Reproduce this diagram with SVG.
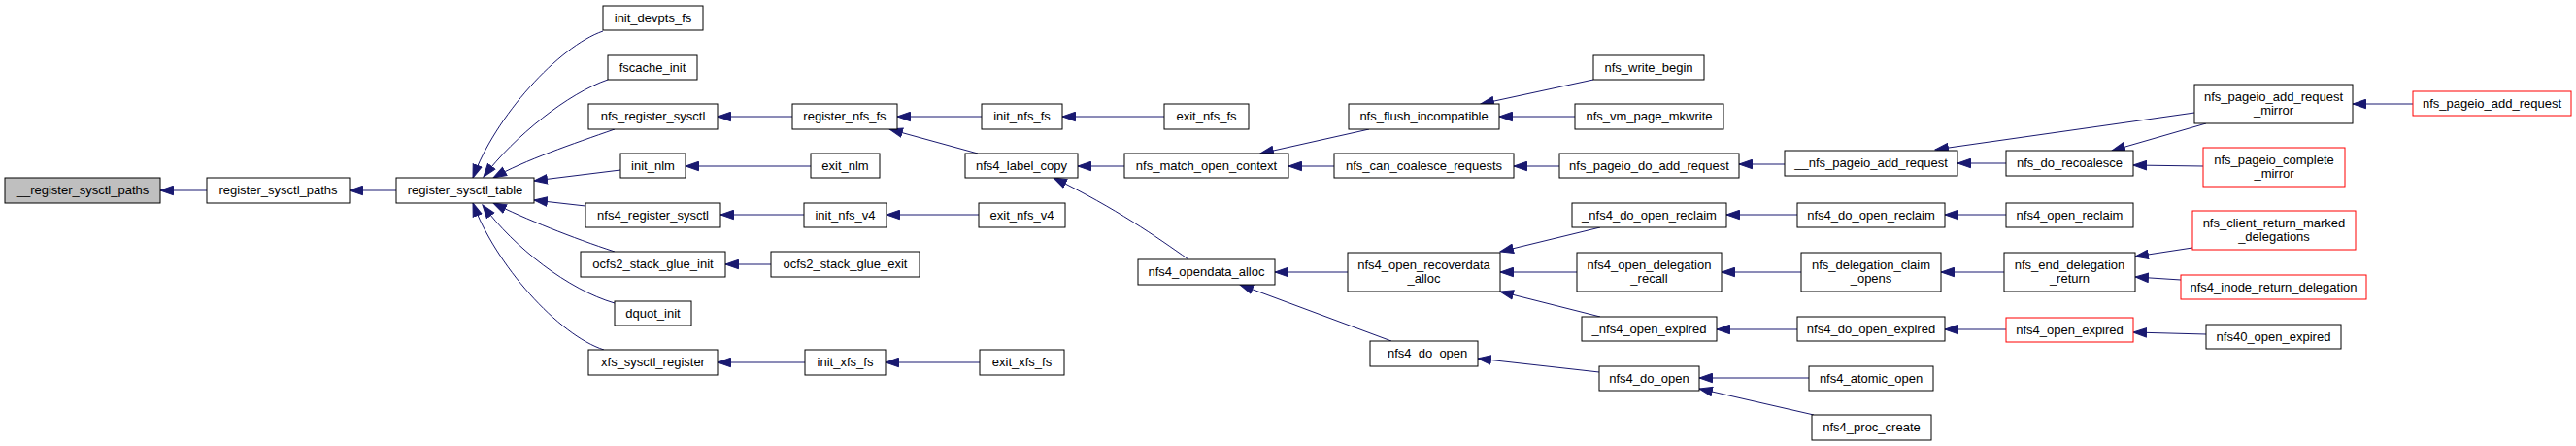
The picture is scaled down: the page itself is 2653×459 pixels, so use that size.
<svg xmlns="http://www.w3.org/2000/svg" width="2653" height="459" viewBox="0 0 2653 459">
<style>
.n rect{fill:#fff;stroke:#000;stroke-width:1}
.n.root rect{fill:#bfbfbf}
.n.red rect{stroke:#ff0000}
.n text{font-family:"Liberation Sans",Arial,sans-serif;font-size:13px;fill:#000;text-anchor:middle}
#edges path{fill:none;stroke:#191970;stroke-width:1;marker-end:url(#a)}
</style>
<defs>
<marker id="a" markerWidth="15" markerHeight="11" refX="14" refY="5.5" orient="auto" markerUnits="userSpaceOnUse" viewBox="0 0 15 11"><path d="M0.5,0.8 L14,5.5 L0.5,10.2 z" fill="#191970" stroke="#191970" stroke-width="1"/></marker>
</defs>
<rect width="2653" height="459" fill="#fff"/>
<g id="edges">
<path d="M213,196 L165,196"/>
<path d="M408,196 L360,196"/>
<path d="M621,32 C575,48 510,120 487,183"/>
<path d="M626,82 C585,96 530,140 498,182"/>
<path d="M633,133 C590,148 540,165 508,183"/>
<path d="M639,175 L550,186"/>
<path d="M603,212 L550,206"/>
<path d="M633,259 C590,245 540,225 508,209"/>
<path d="M633,312 C585,298 530,255 497,211"/>
<path d="M622,360 C575,345 510,272 487,209"/>
<path d="M816,120 L739,120"/>
<path d="M835,171 L706,171"/>
<path d="M828,221 L742,221"/>
<path d="M794,272 L747,272"/>
<path d="M829,373 L739,373"/>
<path d="M1011,120 L924,120"/>
<path d="M1007,158 L916,133"/>
<path d="M1199,120 L1094,120"/>
<path d="M1008,221 L913,221"/>
<path d="M1009,373 L912,373"/>
<path d="M1158,171 L1110,171"/>
<path d="M1224,267 C1190,243 1150,215 1085,183"/>
<path d="M1410,133 L1298,158"/>
<path d="M1374,171 L1327,171"/>
<path d="M1388,280 L1313,280"/>
<path d="M1433,351 L1277,293"/>
<path d="M1641,82 L1525,107"/>
<path d="M1622,120 L1544,120"/>
<path d="M1606,171 L1559,171"/>
<path d="M1648,234 L1545,259"/>
<path d="M1624,280 L1545,280"/>
<path d="M1648,326 L1545,300"/>
<path d="M1647,383 L1522,369"/>
<path d="M1838,169 L1791,169"/>
<path d="M1851,221 L1778,221"/>
<path d="M1855,280 L1773,280"/>
<path d="M1851,339 L1768,339"/>
<path d="M1863,389 L1750,389"/>
<path d="M1868,427 L1750,400"/>
<path d="M2066,168 L2016,168"/>
<path d="M2260,116 L1993,154"/>
<path d="M2272,127 L2175,155"/>
<path d="M2269,171 L2197,170"/>
<path d="M2066,221 L2003,221"/>
<path d="M2064,280 L1999,280"/>
<path d="M2066,339 L2003,339"/>
<path d="M2258,255 L2199,264"/>
<path d="M2246,288 L2199,285"/>
<path d="M2272,344 L2197,342"/>
<path d="M2485,107 L2423,107"/>
</g>
<g id="n0" class="n root"><rect x="5" y="183" width="160" height="26"/><text x="85" y="200">__register_sysctl_paths</text></g>
<g id="n1" class="n"><rect x="213" y="183" width="147" height="26"/><text x="286.5" y="200">register_sysctl_paths</text></g>
<g id="n2" class="n"><rect x="408" y="183" width="142" height="26"/><text x="479" y="200">register_sysctl_table</text></g>
<g id="n3" class="n"><rect x="621" y="6" width="103" height="25"/><text x="672.5" y="23">init_devpts_fs</text></g>
<g id="n4" class="n"><rect x="626" y="57" width="92" height="25"/><text x="672" y="74">fscache_init</text></g>
<g id="n5" class="n"><rect x="606" y="107" width="133" height="26"/><text x="672.5" y="124">nfs_register_sysctl</text></g>
<g id="n6" class="n"><rect x="639" y="158" width="67" height="25"/><text x="672.5" y="175">init_nlm</text></g>
<g id="n7" class="n"><rect x="603" y="209" width="139" height="25"/><text x="672.5" y="226">nfs4_register_sysctl</text></g>
<g id="n8" class="n"><rect x="598" y="259" width="149" height="26"/><text x="672.5" y="276">ocfs2_stack_glue_init</text></g>
<g id="n9" class="n"><rect x="633" y="310" width="79" height="25"/><text x="672.5" y="327">dquot_init</text></g>
<g id="n10" class="n"><rect x="606" y="360" width="133" height="26"/><text x="672.5" y="377">xfs_sysctl_register</text></g>
<g id="n11" class="n"><rect x="816" y="107" width="108" height="26"/><text x="870" y="124">register_nfs_fs</text></g>
<g id="n12" class="n"><rect x="835" y="158" width="71" height="25"/><text x="870.5" y="175">exit_nlm</text></g>
<g id="n13" class="n"><rect x="828" y="209" width="85" height="25"/><text x="870.5" y="226">init_nfs_v4</text></g>
<g id="n14" class="n"><rect x="794" y="259" width="153" height="26"/><text x="870.5" y="276">ocfs2_stack_glue_exit</text></g>
<g id="n15" class="n"><rect x="829" y="360" width="83" height="26"/><text x="870.5" y="377">init_xfs_fs</text></g>
<g id="n16" class="n"><rect x="1011" y="107" width="83" height="26"/><text x="1052.5" y="124">init_nfs_fs</text></g>
<g id="n17" class="n"><rect x="1199" y="107" width="87" height="26"/><text x="1242.5" y="124">exit_nfs_fs</text></g>
<g id="n18" class="n"><rect x="994" y="158" width="116" height="25"/><text x="1052" y="175">nfs4_label_copy</text></g>
<g id="n19" class="n"><rect x="1158" y="158" width="169" height="25"/><text x="1242.5" y="175">nfs_match_open_context</text></g>
<g id="n20" class="n"><rect x="1008" y="209" width="89" height="25"/><text x="1052.5" y="226">exit_nfs_v4</text></g>
<g id="n21" class="n"><rect x="1009" y="360" width="87" height="26"/><text x="1052.5" y="377">exit_xfs_fs</text></g>
<g id="n22" class="n"><rect x="1172" y="267" width="141" height="26"/><text x="1242.5" y="284">nfs4_opendata_alloc</text></g>
<g id="n23" class="n"><rect x="1641" y="57" width="114" height="25"/><text x="1698" y="74">nfs_write_begin</text></g>
<g id="n24" class="n"><rect x="1389" y="107" width="155" height="26"/><text x="1466.5" y="124">nfs_flush_incompatible</text></g>
<g id="n25" class="n"><rect x="1622" y="107" width="153" height="26"/><text x="1698.5" y="124">nfs_vm_page_mkwrite</text></g>
<g id="n26" class="n"><rect x="1374" y="158" width="185" height="25"/><text x="1466.5" y="175">nfs_can_coalesce_requests</text></g>
<g id="n27" class="n"><rect x="1606" y="158" width="185" height="25"/><text x="1698.5" y="175">nfs_pageio_do_add_request</text></g>
<g id="n28" class="n"><rect x="1619" y="209" width="159" height="25"/><text x="1698.5" y="226">_nfs4_do_open_reclaim</text></g>
<g id="n29" class="n"><rect x="1388" y="260" width="157" height="40"/><text x="1466.5" y="277">nfs4_open_recoverdata</text><text x="1466.5" y="291">_alloc</text></g>
<g id="n30" class="n"><rect x="1624" y="260" width="149" height="40"/><text x="1698.5" y="277">nfs4_open_delegation</text><text x="1698.5" y="291">_recall</text></g>
<g id="n31" class="n"><rect x="1629" y="326" width="139" height="25"/><text x="1698.5" y="343">_nfs4_open_expired</text></g>
<g id="n32" class="n"><rect x="1411" y="351" width="111" height="26"/><text x="1466.5" y="368">_nfs4_do_open</text></g>
<g id="n33" class="n"><rect x="1647" y="377" width="103" height="25"/><text x="1698.5" y="394">nfs4_do_open</text></g>
<g id="n34" class="n"><rect x="1838" y="155" width="178" height="26"/><text x="1927" y="172">__nfs_pageio_add_request</text></g>
<g id="n35" class="n"><rect x="2066" y="155" width="131" height="26"/><text x="2131.5" y="172">nfs_do_recoalesce</text></g>
<g id="n36" class="n"><rect x="1851" y="209" width="152" height="25"/><text x="1927" y="226">nfs4_do_open_reclaim</text></g>
<g id="n37" class="n"><rect x="2066" y="209" width="131" height="25"/><text x="2131.5" y="226">nfs4_open_reclaim</text></g>
<g id="n38" class="n"><rect x="1855" y="260" width="144" height="40"/><text x="1927" y="277">nfs_delegation_claim</text><text x="1927" y="291">_opens</text></g>
<g id="n39" class="n"><rect x="2064" y="260" width="135" height="40"/><text x="2131.5" y="277">nfs_end_delegation</text><text x="2131.5" y="291">_return</text></g>
<g id="n40" class="n"><rect x="1851" y="326" width="152" height="25"/><text x="1927" y="343">nfs4_do_open_expired</text></g>
<g id="n41" class="n red"><rect x="2066" y="327" width="131" height="25"/><text x="2131.5" y="344">nfs4_open_expired</text></g>
<g id="n42" class="n"><rect x="1863" y="377" width="128" height="25"/><text x="1927" y="394">nfs4_atomic_open</text></g>
<g id="n43" class="n"><rect x="1866" y="427" width="123" height="26"/><text x="1927.5" y="444">nfs4_proc_create</text></g>
<g id="n44" class="n"><rect x="2260" y="87" width="163" height="40"/><text x="2341.5" y="104">nfs_pageio_add_request</text><text x="2341.5" y="118">_mirror</text></g>
<g id="n45" class="n red"><rect x="2485" y="94" width="163" height="25"/><text x="2566.5" y="111">nfs_pageio_add_request</text></g>
<g id="n46" class="n red"><rect x="2269" y="152" width="146" height="40"/><text x="2342" y="169">nfs_pageio_complete</text><text x="2342" y="183">_mirror</text></g>
<g id="n47" class="n red"><rect x="2258" y="217" width="168" height="40"/><text x="2342" y="234">nfs_client_return_marked</text><text x="2342" y="248">_delegations</text></g>
<g id="n48" class="n red"><rect x="2246" y="283" width="191" height="25"/><text x="2341.5" y="300">nfs4_inode_return_delegation</text></g>
<g id="n49" class="n"><rect x="2272" y="334" width="139" height="25"/><text x="2341.5" y="351">nfs40_open_expired</text></g>
</svg>
